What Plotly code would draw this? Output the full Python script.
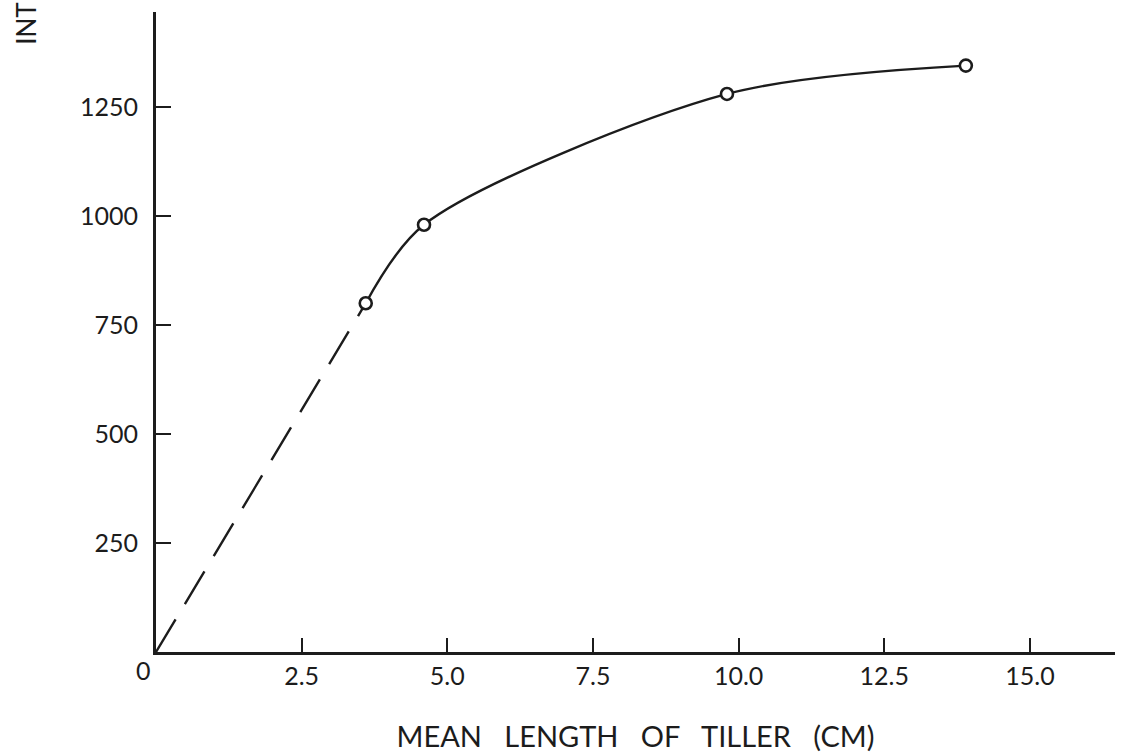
import plotly.graph_objects as go

# Measured tiller length (cm) and the corresponding readings
tiller_length = [3.6, 4.6, 9.8, 13.9]
readings = [800, 980, 1280, 1345]

# Extrapolated part of the curve back to the origin
extrap_length = [0, tiller_length[0]]
extrap_reading = [0, readings[0]]

x_tick_vals = [2.5, 5.0, 7.5, 10.0, 12.5, 15.0]
x_tick_text = ["2.5", "5.0", "7.5", "10.0", "12.5", "15.0"]
y_tick_vals = [250, 500, 750, 1000, 1250]
y_tick_text = ["250", "500", "750", "1000", "1250"]

INK = "#1c1c1c"
FONT = "Lato"
GAP = "\u00a0" * 3

fig = go.Figure()

fig.add_trace(go.Scatter(
    x=extrap_length, y=extrap_reading, mode="lines",
    line=dict(color=INK, width=2.4, dash="38px,18px"),
    hoverinfo="skip", showlegend=False,
))

fig.add_trace(go.Scatter(
    x=tiller_length, y=readings, mode="lines+markers",
    line=dict(color=INK, width=2.4, shape="spline", smoothing=0.85),
    marker=dict(symbol="circle", size=12, color="white",
                line=dict(color=INK, width=2.6)),
    showlegend=False,
))

fig.update_layout(
    width=1123, height=756,
    margin=dict(l=156, r=8, t=12, b=104),
    paper_bgcolor="white", plot_bgcolor="white",
    font=dict(family=FONT, size=25, color=INK),
    xaxis=dict(
        range=[0, 16.46], showgrid=False, zeroline=False,
        showline=True, linecolor=INK, linewidth=3,
        ticks="inside", ticklen=14, tickwidth=2, tickcolor=INK,
        tickvals=x_tick_vals, ticktext=x_tick_text,
        ticklabelstandoff=0,
        tickfont=dict(family=FONT, size=25, color=INK),
        title=dict(text=GAP.join(["MEAN", "LENGTH", "OF", "TILLER", "(CM)"]),
                   font=dict(family=FONT, size=29, color=INK), standoff=38),
    ),
    yaxis=dict(
        range=[0, 1468], showgrid=False, zeroline=False,
        showline=True, linecolor=INK, linewidth=3,
        ticks="inside", ticklen=15, tickwidth=2, tickcolor=INK,
        tickvals=y_tick_vals, ticktext=y_tick_text,
        ticklabelstandoff=10,
        tickfont=dict(family=FONT, size=25, color=INK),
    ),
)

# Origin label, set slightly left of the axis corner
fig.add_annotation(x=0, y=0, xref="x", yref="y", text="0", showarrow=False,
                   xshift=-13, yshift=-18,
                   font=dict(family=FONT, size=25, color=INK))

# Vertical axis title
fig.add_annotation(x=-0.1356, y=0.9815, xref="paper", yref="paper", text="INT",
                   textangle=-90, showarrow=False,
                   xanchor="center", yanchor="middle",
                   font=dict(family=FONT, size=26, color=INK))

fig.write_html("out.html")
